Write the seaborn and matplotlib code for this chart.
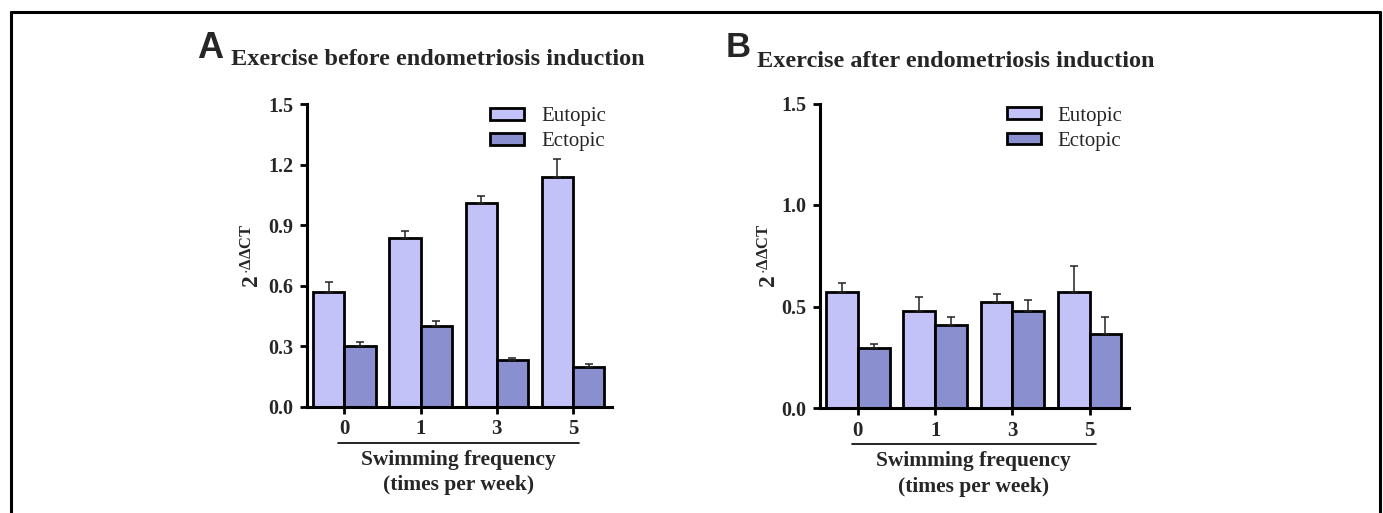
import matplotlib
matplotlib.use('Agg')
import matplotlib.pyplot as plt
import seaborn as sns
import pandas as pd
from matplotlib.patches import Patch
from matplotlib.lines import Line2D
import matplotlib.transforms as mtransforms

# ---------------- data ----------------
freq_labels = ['0', '1', '3', '5']
groups = ['Eutopic', 'Ectopic']

before_eutopic = [0.57, 0.835, 1.01, 1.14]
before_eutopic_err = [0.05, 0.035, 0.035, 0.09]
before_ectopic = [0.30, 0.40, 0.235, 0.20]
before_ectopic_err = [0.02, 0.025, 0.008, 0.012]

after_eutopic = [0.57, 0.48, 0.52, 0.57]
after_eutopic_err = [0.045, 0.065, 0.04, 0.13]
after_ectopic = [0.297, 0.41, 0.48, 0.363]
after_ectopic_err = [0.018, 0.04, 0.05, 0.087]

titles = ['Exercise before endometriosis induction', 'Exercise after endometriosis induction']
panel_letters = ['A', 'B']
yticks_a = [0.0, 0.3, 0.6, 0.9, 1.2, 1.5]
yticks_b = [0.0, 0.5, 1.0, 1.5]
xlabel_lines = ['Swimming frequency', '(times per week)']

colors = ['#C2C2F8', '#8A8FD0']

sns.set_theme(style='white')
plt.rcParams['font.family'] = ['Liberation Serif', 'DejaVu Serif']
plt.rcParams['mathtext.fontset'] = 'custom'
plt.rcParams['mathtext.rm'] = 'Liberation Serif:bold'
plt.rcParams['mathtext.bf'] = 'Liberation Serif:bold'
plt.rcParams['mathtext.it'] = 'Liberation Serif:bold'

fig = plt.figure(figsize=(13.83, 5.13), dpi=100)
fig.patch.set_facecolor('white')

W, H = 1383, 513
axA = fig.add_axes([307 / W, 1 - 407 / H, (612 - 307) / W, (407 - 104) / H])
axB = fig.add_axes([820 / W, 1 - 408 / H, (1129 - 820) / W, (408 - 103.5) / H])


def make_df(eu, ec):
    rows = []
    for f, v in zip(freq_labels, eu):
        rows.append({'freq': f, 'group': 'Eutopic', 'value': v})
    for f, v in zip(freq_labels, ec):
        rows.append({'freq': f, 'group': 'Ectopic', 'value': v})
    return pd.DataFrame(rows)


def draw_panel(ax, eu, eu_err, ec, ec_err, yticks, ylab_x):
    df = make_df(eu, ec)
    sns.barplot(data=df, x='freq', y='value', hue='group', order=freq_labels,
                hue_order=groups, palette=colors, width=0.82, edgecolor='black',
                linewidth=2.0, saturation=1, errorbar=None, legend=False, ax=ax)
    for cont, errs in zip(ax.containers, [eu_err, ec_err]):
        for bar, e in zip(cont, errs):
            x = bar.get_x() + bar.get_width() / 2
            y = bar.get_height()
            ax.errorbar([x], [y], yerr=[[0], [e]], fmt='none', ecolor='#222222',
                        elinewidth=1.1, capsize=2.8, capthick=1.1, zorder=1)
    ax.set_ylim(0, 1.5)
    ax.set_xlim(-0.49, 3.51)
    ax.set_yticks(yticks)
    ax.set_yticklabels([f'{t:.1f}' for t in yticks], fontsize=14.5, fontweight='bold')
    ax.set_xticks(range(len(freq_labels)))
    ax.set_xticklabels(freq_labels, fontsize=15, fontweight='bold')
    for s in ['top', 'right']:
        ax.spines[s].set_visible(False)
    for s in ['left', 'bottom']:
        ax.spines[s].set_linewidth(2.2)
        ax.spines[s].set_color('black')
    ax.tick_params(axis='y', direction='out', length=5, width=2, color='black',
                   left=True, pad=5)
    ax.tick_params(axis='x', direction='out', length=5, width=2, color='black',
                   bottom=True, pad=4)
    ax.set_xlabel('')
    ax.set_ylabel(r'$\mathbf{2}^{\,\mathbf{\cdot\Delta\Delta CT}}$', fontsize=17)
    ax.yaxis.set_label_coords(ylab_x, 0.5)
    ax.set_facecolor('white')
    # underline + xlabel block
    trans = mtransforms.blended_transform_factory(ax.transData, ax.transAxes)
    ax.plot([-0.08, 3.08], [-0.118, -0.118], color='black', lw=1.2,
            transform=trans, clip_on=False)
    ax.text(1.5, -0.175, xlabel_lines[0], transform=trans, ha='center', va='center',
            fontsize=15.5, fontweight='bold')
    ax.text(1.5, -0.258, xlabel_lines[1], transform=trans, ha='center', va='center',
            fontsize=15.5, fontweight='bold')
    handles = [Patch(facecolor=c, edgecolor='black', linewidth=2.0) for c in colors]
    ax.legend(handles, groups, loc='upper right', bbox_to_anchor=(1.0, 1.01),
              frameon=False, fontsize=15, handlelength=1.65, handleheight=0.5,
              handletextpad=0.8, labelspacing=0.3, borderaxespad=0.0,
              borderpad=0.3)


draw_panel(axA, before_eutopic, before_eutopic_err, before_ectopic, before_ectopic_err,
           yticks_a, -0.138)
draw_panel(axB, after_eutopic, after_eutopic_err, after_ectopic, after_ectopic_err,
           yticks_b, -0.126)

# panel titles
fig.text(197 / W, 1 - 58 / H, panel_letters[0], fontsize=26, fontweight='bold',
         family=['Liberation Sans'], ha='left', va='baseline')
fig.text(231 / W, 1 - 65 / H, titles[0], fontsize=17.5, fontweight='bold',
         ha='left', va='baseline')
fig.text(726 / W, 1 - 57 / H, panel_letters[1], fontsize=25, fontweight='bold',
         family=['Liberation Sans'], ha='left', va='baseline')
fig.text(757 / W, 1 - 67 / H, titles[1], fontsize=17.5, fontweight='bold',
         ha='left', va='baseline')

# outer frame (open at the bottom)
for xs, ys in [([11 / W, 11 / W], [0, 1 - 12 / H]),
               ([11 / W, 1380 / W], [1 - 12 / H, 1 - 12 / H]),
               ([1380 / W, 1380 / W], [1 - 12 / H, 0])]:
    fig.add_artist(Line2D(xs, ys, color='black', lw=2.2, transform=fig.transFigure))

fig.savefig('out.png', dpi=100, facecolor='white')
